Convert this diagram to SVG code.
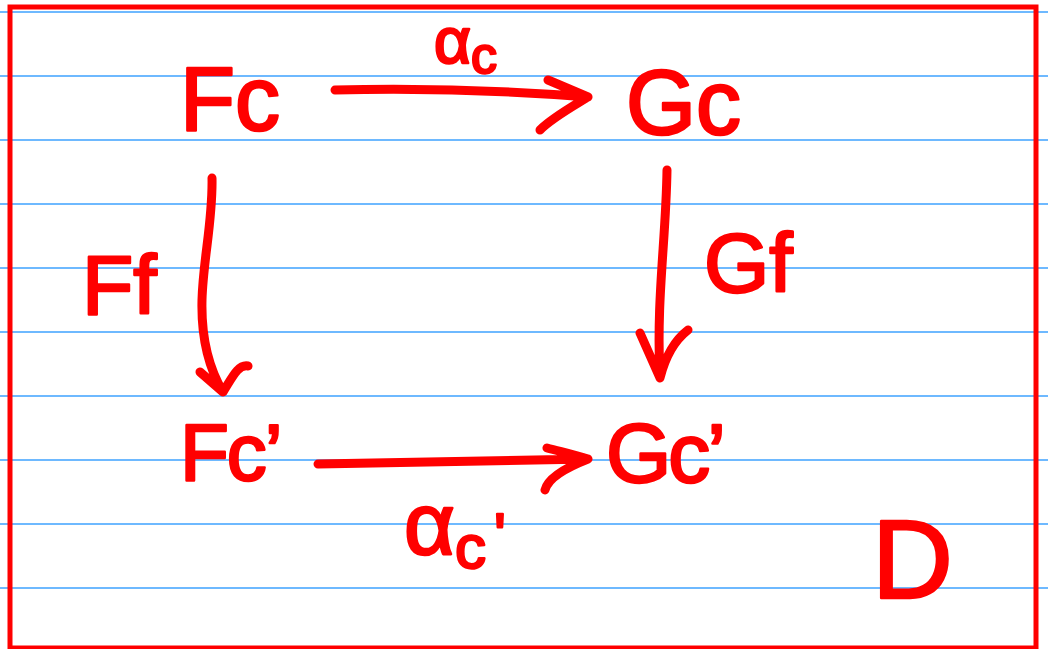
<svg xmlns="http://www.w3.org/2000/svg" width="1048" height="649" viewBox="0 0 1048 649">
  <style>
    .rule { stroke: #3ea2ff; stroke-width: 1.6; }
    .ink { fill: none; stroke: #ff0000; stroke-width: 9; stroke-linecap: round; stroke-linejoin: round; }
    .t { font-family: "Liberation Sans", Arial, sans-serif; fill: #ff0000; stroke: #ff0000; stroke-width: 2.5; stroke-linejoin: round; }
  </style>
  <rect x="0" y="0" width="1048" height="649" fill="#ffffff"/>
  <g id="paper">
    <line class="rule" x1="0" y1="12" x2="1048" y2="12"/>
    <line class="rule" x1="0" y1="76" x2="1048" y2="76"/>
    <line class="rule" x1="0" y1="140" x2="1048" y2="140"/>
    <line class="rule" x1="0" y1="204" x2="1048" y2="204"/>
    <line class="rule" x1="0" y1="268" x2="1048" y2="268"/>
    <line class="rule" x1="0" y1="332" x2="1048" y2="332"/>
    <line class="rule" x1="0" y1="396" x2="1048" y2="396"/>
    <line class="rule" x1="0" y1="460" x2="1048" y2="460"/>
    <line class="rule" x1="0" y1="524" x2="1048" y2="524"/>
    <line class="rule" x1="0" y1="588" x2="1048" y2="588"/>
    <rect x="10" y="7" width="1026" height="641" fill="none" stroke="#ff0000" stroke-width="5"/>
  </g>
  <g id="connectors">
    <path class="ink" d="M335 90 C420 88 500 90 588 97 M548 80 L588 97 C570 108 552 118 540 130"/>
    <path class="ink" d="M212 178 C213 220 203 260 202 300 C201 340 210 370 223 392 M200 372 L223 392 C232 378 238 364 248 366"/>
    <path class="ink" d="M667 170 C666 240 656 300 660 378 M640 333 L660 378 C665 358 675 340 688 330"/>
    <path class="ink" d="M318 464 C410 462 500 461 588 459 M547 448 C562 452 575 455 588 459 C565 468 548 478 545 490"/>
  </g>
  <g id="node-Fc"><text class="t" x="180" y="130" font-size="90">Fc</text></g>
  <g id="node-Gc"><text class="t" x="626" y="134" font-size="90">Gc</text></g>
  <g id="node-Fc2"><text class="t" x="180" y="480" font-size="80" letter-spacing="-2">Fc’</text></g>
  <g id="node-Gc2"><text class="t" x="606" y="482" font-size="84" letter-spacing="-3">Gc’</text></g>
  <g id="label-alpha-c"><text class="t" x="434" y="63" font-size="64">α<tspan font-size="52" dy="10">c</tspan></text></g>
  <g id="label-alpha-c2"><text class="t" x="404" y="554" font-size="88">α<tspan font-size="62" dy="14">c</tspan><tspan font-size="62" dx="8" dy="-12">'</tspan></text></g>
  <g id="label-Ff"><text class="t" x="82" y="314" font-size="84">Ff</text></g>
  <g id="label-Gf"><text class="t" x="704" y="292" font-size="84">Gf</text></g>
  <g id="label-D"><text class="t" x="872" y="598" font-size="112">D</text></g>
</svg>
